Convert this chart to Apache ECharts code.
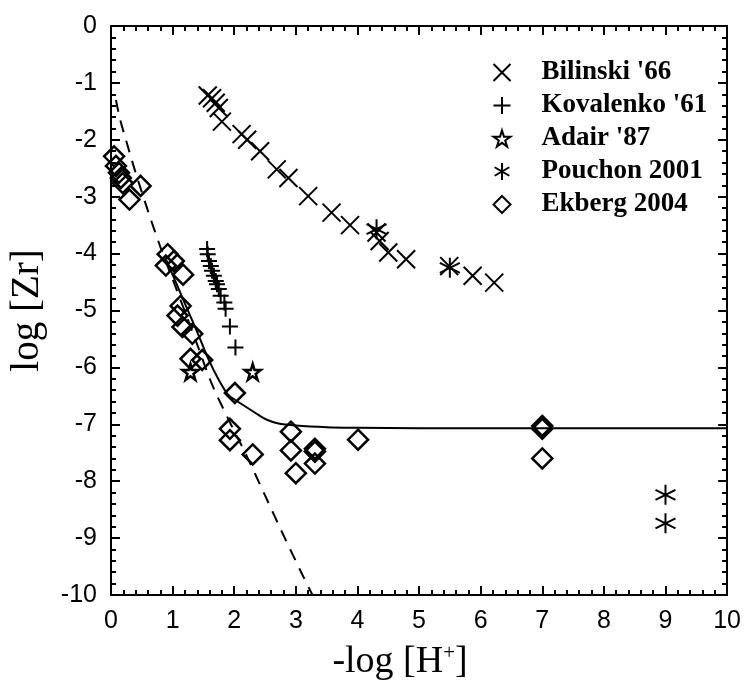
<!DOCTYPE html>
<html>
<head>
<meta charset="utf-8">
<script src="https://cdn.jsdelivr.net/npm/echarts@6/dist/echarts.min.js"></script>
<style>
  html, body { margin: 0; padding: 0; background: #fff; }
  #chart { width: 744px; height: 686px; }
</style>
</head>
<body>
<div id="chart"></div>
<script>
// data: [ -log[H+], log[Zr] ]
var bilinski = [[1.57,-1.22],[1.64,-1.27],[1.70,-1.35],[1.75,-1.44],[1.80,-1.68],[2.12,-1.90],[2.21,-2.00],
  [2.42,-2.20],[2.69,-2.52],[2.88,-2.67],[3.20,-2.99],[3.58,-3.28],[3.88,-3.50],[4.31,-3.63],[4.36,-3.78],
  [4.50,-3.98],[4.79,-4.10],[5.49,-4.22],[5.87,-4.39],[6.22,-4.51]];
var kovalenko = [[1.56,-3.92],[1.57,-4.01],[1.59,-4.13],[1.62,-4.22],[1.64,-4.30],[1.67,-4.39],[1.70,-4.48],
  [1.72,-4.54],[1.75,-4.62],[1.78,-4.74],[1.84,-4.86],[1.86,-4.97],[1.93,-5.28],[2.02,-5.65]];
var adair = [[1.29,-6.08],[2.30,-6.08]];
var pouchon = [[4.31,-3.57],[5.50,-4.25],[9.00,-8.24],[9.00,-8.74]];
var ekberg = [[0.05,-2.29],[0.08,-2.46],[0.13,-2.58],[0.16,-2.67],[0.19,-2.76],[0.30,-3.05],[0.48,-2.81],
  [0.92,-4.01],[0.89,-4.21],[1.02,-4.13],[1.17,-4.37],[1.13,-4.92],[1.08,-5.09],[1.16,-5.29],[1.32,-5.41],
  [1.29,-5.85],[1.48,-5.87],[2.01,-6.45],[1.93,-7.08],[1.93,-7.28],[2.30,-7.53],[2.92,-7.13],[2.92,-7.46],
  [3.00,-7.86],[3.31,-7.43],[3.31,-7.48],[3.31,-7.69],[4.01,-7.27],[7.00,-7.03],[7.00,-7.08],[7.00,-7.60]];
// model curves
var solidCurve = [[0.90,-4.12],[1.00,-4.37],[1.20,-4.88],[1.40,-5.38],[1.60,-5.90],[1.75,-6.22],[1.90,-6.48],
  [2.00,-6.56],[2.20,-6.70],[2.40,-6.84],[2.53,-6.92],[2.70,-6.98],[3.00,-7.02],[3.50,-7.05],[4.00,-7.06],
  [5.00,-7.07],[7.00,-7.07],[10.00,-7.07]];
var dashedCurve = [[0.08,-1.30],[0.15,-1.65],[0.25,-2.03],[0.40,-2.58],[0.60,-3.25],[0.80,-3.88],[1.00,-4.45],
  [1.20,-5.02],[1.40,-5.60],[1.64,-6.30],[1.90,-6.90],[2.20,-7.55],[2.50,-8.25],[2.80,-8.95],[3.10,-9.63],[3.27,-10.00]];
var legendNames = ["Bilinski '66", "Kovalenko '61", "Adair '87", "Pouchon 2001", "Ekberg 2004"];

var chart = echarts.init(document.getElementById('chart'));

var sans = 'Liberation Sans, Arial, sans-serif';
var serif = 'Liberation Serif, Times New Roman, serif';

function axis(type, pos, showLabels) {
  return {
    type: 'value',
    position: pos,
    min: type === 'x' ? 0 : -10,
    max: type === 'x' ? 10 : 0,
    interval: 1,
    axisLine: { show: true, onZero: false, lineStyle: { color: '#000', width: 2 } },
    axisTick: { show: true, inside: true, length: 9, lineStyle: { color: '#000', width: 2 } },
    minorTick: { show: true, splitNumber: 5, length: 5, lineStyle: { color: '#000', width: 2 } },
    splitLine: { show: false },
    minorSplitLine: { show: false },
    axisLabel: { show: showLabels, margin: 14, fontFamily: sans, fontSize: 25, color: '#000' }
  };
}

var xMain = axis('x', 'bottom', true);
xMain.name = '-log [H{sup|+}]';
xMain.nameLocation = 'middle';
xMain.nameGap = 48;
xMain.nameTextStyle = {
  fontFamily: serif, fontSize: 38, color: '#000', padding: [0, 38, 0, 0],
  rich: { sup: { fontFamily: serif, fontSize: 21, verticalAlign: 'top', padding: [0, 0, 17, 0] } }
};
var yMain = axis('y', 'left', true);
yMain.name = 'log [Zr]';
yMain.nameLocation = 'middle';
yMain.nameGap = 64;
yMain.nameTextStyle = { fontFamily: serif, fontSize: 39, color: '#000' };

var strokeStyle = { color: 'none', borderColor: '#000', borderWidth: 2, opacity: 1 };

var option = {
  animation: false,
  backgroundColor: '#fff',
  grid: { left: 110, right: 15, top: 26, bottom: 89 },
  xAxis: [xMain, axis('x', 'top', false)],
  yAxis: [yMain, axis('y', 'right', false)],
  legend: {
    data: legendNames,
    orient: 'vertical',
    left: 486,
    top: 51,
    itemWidth: 17,
    itemHeight: 17,
    itemGap: 0,
    itemStyle: { opacity: 1 },
    textStyle: { fontFamily: serif, fontWeight: 'bold', fontSize: 27, lineHeight: 33, color: '#000', padding: [0, 0, 0, 26] }
  },
  series: [
    {
      type: 'line', data: solidCurve, showSymbol: false, smooth: 0.3, silent: true, z: 1,
      lineStyle: { color: '#000', width: 2 }
    },
    {
      type: 'line', data: dashedCurve, showSymbol: false, smooth: 0.3, silent: true, z: 1,
      lineStyle: { color: '#000', width: 2, type: [12, 9] }
    },
    {
      name: legendNames[0], type: 'scatter', data: bilinski, z: 3,
      symbol: 'path://M0,0L100,100M100,0L0,100', symbolSize: 18, itemStyle: strokeStyle
    },
    {
      name: legendNames[1], type: 'scatter', data: kovalenko, z: 3,
      symbol: 'path://M50,0L50,100M0,50L100,50', symbolSize: 16, itemStyle: strokeStyle
    },
    {
      name: legendNames[2], type: 'scatter', data: adair, z: 3,
      symbol: 'path://M50,0L61,35L98,35L68,57L79,91L50,70L21,91L32,57L2,35L39,35Z', symbolSize: 16,
      itemStyle: { color: 'none', borderColor: '#000', borderWidth: 2.5, opacity: 1 }
    },
    {
      name: legendNames[3], type: 'scatter', data: pouchon, z: 3,
      symbol: 'path://M50,0L50,100M7,25L93,75M93,25L7,75', symbolSize: 20, itemStyle: strokeStyle
    },
    {
      name: legendNames[4], type: 'scatter', data: ekberg, z: 3,
      symbol: 'diamond', symbolSize: 20, itemStyle: { color: 'none', borderColor: '#000', borderWidth: 2.5, opacity: 1 }
    }
  ]
};

chart.setOption(option);
</script>
</body>
</html>
